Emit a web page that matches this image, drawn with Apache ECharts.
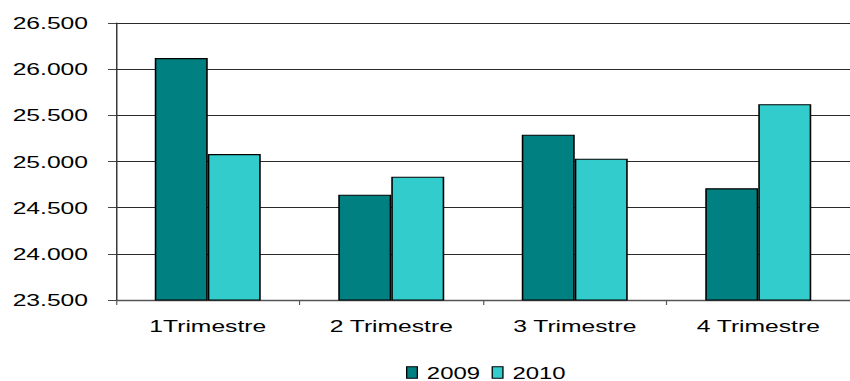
<!DOCTYPE html>
<html>
<head>
<meta charset="utf-8">
<script src="https://cdn.jsdelivr.net/npm/echarts@6/dist/echarts.min.js"></script>
<style>
  html, body { margin: 0; padding: 0; background: #fff; overflow: hidden; }
  #wrap { width: 850px; height: 381px; overflow: hidden; }
  /* The chart is laid out narrow and widened horizontally, giving the broad lettering */
  #chart { width: 586px; height: 381px; transform-origin: 0 0; }
</style>
</head>
<body>
<div id="wrap"><div id="chart"></div></div>
<script>
// Quarterly totals for two years
const categories = ['1Trimestre', '2 Trimestre', '3 Trimestre', '4 Trimestre'];
const years = ['2009', '2010'];
const values2009 = [26120, 24640, 25290, 24710];
const values2010 = [25080, 24835, 25030, 25620];
const colors = ['#008080', '#33CCCC'];

// Horizontal stretch applied to the whole drawing
const SX = 850 / 586;
document.getElementById('chart').style.transform = 'scaleX(' + SX + ')';
const px = (v) => v / SX; // page pixels -> chart pixels (x direction)

// Thousands separator with a dot: 26500 -> "26.500"
function fmt(v) {
  return String(v).replace(/\B(?=(\d{3})+(?!\d))/g, '.');
}

const chart = echarts.init(document.getElementById('chart'), null, { renderer: 'svg' });

const barStyle = (c) => ({ color: c, borderColor: '#000', borderWidth: 1.1 });

chart.setOption({
  animation: false,
  textStyle: { fontFamily: 'Liberation Sans, Arial, sans-serif' },
  grid: { left: px(116), top: 23, width: px(745), height: 277, containLabel: false },
  legend: {
    top: 364,
    left: px(406),
    padding: 0,
    itemWidth: px(10.7),
    itemHeight: 11.5,
    itemGap: px(11.5),
    icon: 'rect',
    textStyle: { fontSize: 16.5, color: '#000', padding: [0, 0, 0, px(9.5) - 5] },
    data: years.map((y, i) => ({ name: y, itemStyle: { color: colors[i], borderColor: '#000', borderWidth: 0.9 } }))
  },
  xAxis: {
    type: 'category',
    data: categories,
    axisLine: { lineStyle: { color: '#555', width: 1.4 } },
    axisTick: { show: true, length: 5, lineStyle: { color: '#555', width: 0.8 } },
    axisLabel: { fontSize: 17, color: '#000', margin: 17 }
  },
  yAxis: {
    type: 'value',
    min: 23500,
    max: 26500,
    interval: 500,
    axisLine: { show: true, lineStyle: { color: '#333', width: 1 } },
    axisTick: { show: true, length: px(8), lineStyle: { color: '#444' } },
    splitLine: { lineStyle: { color: '#2a2a2a', width: 1 } },
    axisLabel: { fontSize: 17, color: '#000', margin: px(28), formatter: fmt }
  },
  series: [
    { name: years[0], type: 'bar', data: values2009, barWidth: px(53), barGap: '0%', itemStyle: barStyle(colors[0]) },
    { name: years[1], type: 'bar', data: values2010, barWidth: px(53), barGap: '0%', itemStyle: barStyle(colors[1]) }
  ]
});
</script>
</body>
</html>
